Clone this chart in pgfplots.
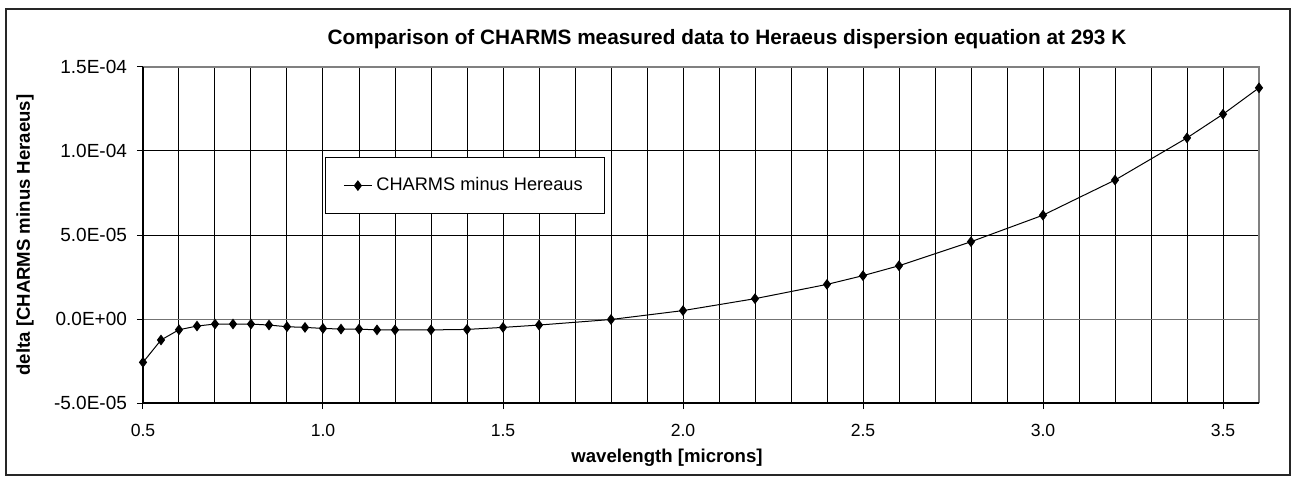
\documentclass[border=0pt]{standalone}
\usepackage{fontspec}
\setmainfont{Liberation Sans}
\usepackage{pgfplots}
\pgfplotsset{compat=1.18}
\begin{document}
\begin{tikzpicture}[x=1pt,y=1pt]
\path[use as bounding box] (-71.5,-37) rectangle (576,201.5);
\draw[line width=0.9pt,black!85] (-68.5,-36) rectangle (573.5,197);
\begin{axis}[
  at={(0,0)}, anchor=south west,
  scale only axis, width=558pt, height=168pt,
  xmin=0.5, xmax=3.6, ymin=-5e-5, ymax=1.5e-4,
  clip=false,
  axis line style={draw=none},
  xtick={0.5,1.0,1.5,2.0,2.5,3.0,3.5},
  xticklabels={0.5,1.0,1.5,2.0,2.5,3.0,3.5},
  minor xtick={0.6,0.7,0.8,0.9,1.1,1.2,1.3,1.4,1.6,1.7,1.8,1.9,2.1,2.2,2.3,2.4,2.6,2.7,2.8,2.9,3.1,3.2,3.3,3.4,3.6},
  ytick={-5e-5,0,5e-5,1e-4,1.5e-4},
  yticklabels={-5.0E-05,0.0E+00,5.0E-05,1.0E-04,1.5E-04},
  scaled y ticks=false,
  grid=both,
  major grid style={black, line width=0.5pt},
  minor grid style={black, line width=0.5pt},
  minor tick length=0pt,
  major tick length=3pt,
  tick align=outside,
  xtick pos=left, ytick pos=left,
  tick style={black, line width=0.5pt},
  /pgf/number format/assume math mode=true,
  xticklabel style={yshift=-4pt, font=\fontsize{8.8}{10}\selectfont},
  yticklabel style={xshift=-1.5pt, font=\fontsize{9.5}{11}\selectfont},
  legend style={at={(0.163,0.732)}, anchor=north west, draw=black, line width=0.5pt,
    fill=white, inner xsep=9pt, inner ysep=8pt, font=\fontsize{9.1}{11}\selectfont,
    legend cell align=left},
  legend image code/.code={\draw[#1, mark repeat=2, mark phase=2] plot coordinates {(0pt,0pt) (7pt,0pt) (14pt,0pt)};},
]
\draw[black!55, line width=0.5pt] (axis cs:0.5,0) -- (axis cs:3.6,0);
\addplot[black, line width=0.5pt, mark=diamond*, mark size=2.3pt, mark options={fill=black}] coordinates {
(0.50,-2.58e-5) (0.55,-1.25e-5) (0.60,-6.4e-6) (0.65,-4.2e-6) (0.70,-3.0e-6)
(0.75,-3.0e-6) (0.80,-3.0e-6) (0.85,-3.6e-6) (0.90,-4.6e-6) (0.95,-5.0e-6)
(1.00,-5.6e-6) (1.05,-6.0e-6) (1.10,-6.0e-6) (1.15,-6.5e-6) (1.20,-6.5e-6)
(1.30,-6.5e-6) (1.40,-6.2e-6) (1.50,-5.0e-6) (1.60,-3.6e-6) (1.80,-0.3e-6)
(2.00,5.0e-6) (2.20,1.21e-5) (2.40,2.06e-5) (2.50,2.58e-5) (2.60,3.17e-5)
(2.80,4.6e-5) (3.00,6.18e-5) (3.20,8.27e-5) (3.40,1.078e-4) (3.50,1.219e-4)
(3.60,1.376e-4)
};
\addlegendentry{CHARMS minus Hereaus}
\draw[black!50, line width=0.6pt] (rel axis cs:0,1) -- (rel axis cs:1,1) -- (rel axis cs:1,0);
\draw[black, line width=0.7pt] (rel axis cs:0,1) -- (rel axis cs:0,0) -- (rel axis cs:1,0);
\end{axis}
\node[anchor=base, font=\bfseries\fontsize{10.4}{12}\selectfont] at (292,179) {Comparison of CHARMS measured data to Heraeus dispersion equation at 293 K};
\node[anchor=base, font=\bfseries\fontsize{9.3}{11}\selectfont] at (262,-29.8) {wavelength [microns]};
\node[rotate=90, font=\bfseries\fontsize{9.3}{11}\selectfont] at (-59,84) {delta [CHARMS minus Heraeus]};
\end{tikzpicture}
\end{document}
